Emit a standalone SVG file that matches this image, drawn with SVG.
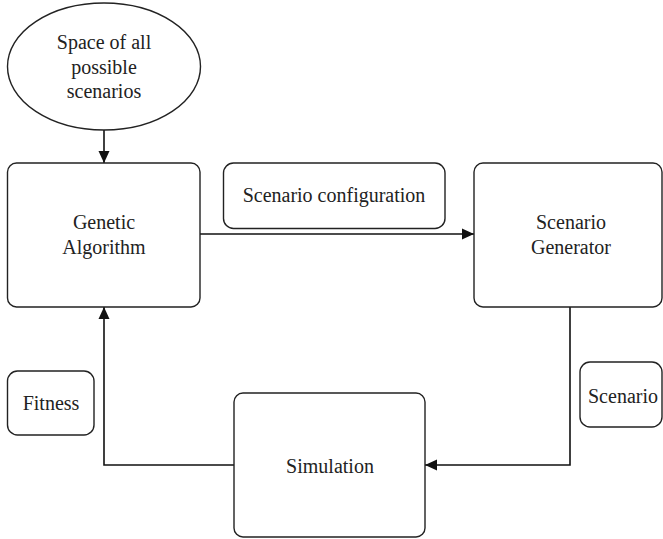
<svg xmlns="http://www.w3.org/2000/svg" width="663" height="539" viewBox="0 0 663 539">
<style>
.box{fill:#fff;stroke:#222;stroke-width:1.4}
.t{font-family:'Liberation Serif','Times New Roman',Times,'DejaVu Serif',serif;font-size:20px;fill:#222;text-anchor:middle}
.c{fill:none;stroke:#111;stroke-width:1.6}
</style>
<defs>
<marker id="arr" markerUnits="userSpaceOnUse" markerWidth="12" markerHeight="12" refX="12" refY="6" orient="auto">
<path d="M0,0.5 L12,6 L0,11.5 Z" fill="#111"/>
</marker>
</defs>
<g id="connectors">
<path class="c" d="M104,130 V163" marker-end="url(#arr)"/>
<path class="c" d="M200,234 H474" marker-end="url(#arr)"/>
<path class="c" d="M570,307 V465 H425" marker-end="url(#arr)"/>
<path class="c" d="M234,465 H104 V307" marker-end="url(#arr)"/>
</g>
<g id="space">
<ellipse class="box" cx="104" cy="66.5" rx="96.5" ry="63.5"/>
<text class="t" x="104" y="49" font-family="Liberation Serif, serif">Space of all</text>
<text class="t" x="104" y="74">possible</text>
<text class="t" x="104" y="98">scenarios</text>
</g>
<g id="ga">
<rect class="box" x="7.5" y="163" width="192.5" height="144" rx="9"/>
<text class="t" x="104" y="229">Genetic</text>
<text class="t" x="104" y="254">Algorithm</text>
</g>
<g id="config">
<rect class="box" x="223.5" y="163" width="221.5" height="65.5" rx="10"/>
<text class="t" x="334" y="202">Scenario configuration</text>
</g>
<g id="generator">
<rect class="box" x="474" y="163" width="188" height="144" rx="9"/>
<text class="t" x="571" y="229">Scenario</text>
<text class="t" x="571" y="254">Generator</text>
</g>
<g id="fitness">
<rect class="box" x="7.5" y="371" width="86.5" height="64" rx="10"/>
<text class="t" x="51" y="410">Fitness</text>
</g>
<g id="simulation">
<rect class="box" x="234" y="393" width="191" height="144" rx="9"/>
<text class="t" x="330" y="473">Simulation</text>
</g>
<g id="scenario">
<rect class="box" x="580" y="362" width="82" height="65" rx="10"/>
<text class="t" x="623" y="403">Scenario</text>
</g>
</svg>
